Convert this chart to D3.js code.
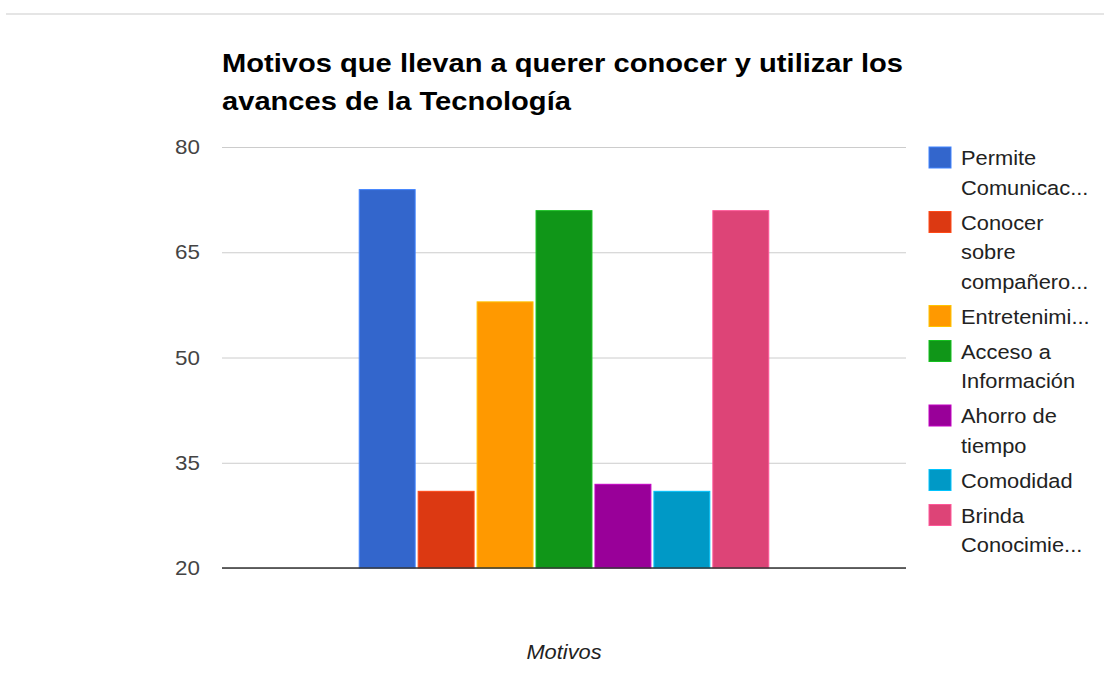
<!DOCTYPE html>
<html>
<head>
<meta charset="utf-8">
<script src="https://cdn.jsdelivr.net/npm/d3@7"></script>
<style>
  body { margin: 0; background: #fff; }
  svg { display: block; font-family: "Liberation Sans", Arial, sans-serif; }
</style>
</head>
<body>
<div id="chart"></div>
<script>
//Chart data.
let seriesNames = [
  ["Permite", "Comunicac..."],
  ["Conocer", "sobre", "compañero..."],
  ["Entretenimi..."],
  ["Acceso a", "Información"],
  ["Ahorro de", "tiempo"],
  ["Comodidad"],
  ["Brinda", "Conocimie..."]
]
let seriesValues = [74, 31, 58, 71, 32, 31, 71]
let seriesColors = ["#3366cc", "#dc3912", "#ff9900", "#109618", "#990099", "#0099c6", "#dd4477"]
let categories = ["Motivos"]
let yTicks = [20, 35, 50, 65, 80]
let titleLines = ["Motivos que llevan a querer conocer y utilizar los", "avances de la Tecnología"]

//Dimensions of the page and the plot area.
let w = 1104
let h = 673
let plot = {left: 222, right: 906, top: 147, bottom: 568}
//The reference is slightly stretched sideways, so text gets the same stretch.
let stretch = 1.12

const svg = d3.select("#chart")
  .append("svg")
  .attr("width", w)
  .attr("height", h)

//Thin rule across the top of the page.
svg.append("line")
  .attr("x1", 6).attr("x2", w)
  .attr("y1", 14).attr("y2", 14)
  .attr("stroke", "#e5e5e5")
  .attr("stroke-width", 2)

//Places a stretched text element.
function addText(x, y, str, size, color, anchor) {
  return svg.append("text")
    .attr("transform", "translate(" + x + "," + y + ") scale(" + stretch + ",1)")
    .attr("text-anchor", anchor || "start")
    .attr("font-size", size)
    .attr("fill", color)
    .text(str)
}

//Title, two lines.
titleLines.forEach((line, i) => {
  addText(plot.left, 71.5 + i * 38.5, line, 26, "#000").attr("font-weight", "bold")
})

//Scales.
let yScale = d3.scaleLinear()
  .domain([20, 80])
  .range([plot.bottom, plot.top])

let xScale = d3.scaleBand()
  .domain(categories)
  .range([plot.left, plot.right])
  .paddingInner(0)
  .paddingOuter(0.333)

let seriesScale = d3.scaleBand()
  .domain(d3.range(seriesValues.length))
  .range([0, xScale.bandwidth()])
  .paddingInner(0.034)

//Gridlines and y tick labels.
let yAxis = d3.axisLeft(yScale)
  .tickValues(yTicks)
  .tickSize(-(plot.right - plot.left))
  .tickFormat("")

svg.append("g")
  .attr("transform", "translate(" + plot.left + ",0)")
  .call(yAxis)
  .call(g => g.select(".domain").remove())
  .call(g => g.selectAll(".tick line").attr("stroke", "#cccccc"))

yTicks.forEach(t => {
  addText(200, yScale(t) + 7, t, 20, "#444", "end")
})

//Bars.
svg.append("g")
  .selectAll("rect")
  .data(seriesValues)
  .enter()
  .append("rect")
  .attr("x", (d, i) => xScale(categories[0]) + seriesScale(i) + 0.5)
  .attr("y", d => yScale(d) + 0.5)
  .attr("width", seriesScale.bandwidth() - 1)
  .attr("height", d => yScale(20) - yScale(d) - 0.5)
  .attr("fill", (d, i) => seriesColors[i])
  .attr("stroke", (d, i) => d3.color(seriesColors[i]).brighter(0.7))
  .attr("stroke-width", 1)

//Baseline.
svg.append("line")
  .attr("x1", plot.left).attr("x2", plot.right)
  .attr("y1", yScale(20)).attr("y2", yScale(20))
  .attr("stroke", "#333")
  .attr("stroke-width", 1.5)

//X axis title.
addText((plot.left + plot.right) / 2, 659, categories[0], 19.5, "#222", "middle")
  .attr("font-style", "italic")

//Legend on the right.
let lineHeight = 29.5
let itemGap = 35
let ly = 158
seriesNames.forEach((lines, i) => {
  svg.append("rect")
    .attr("x", 929)
    .attr("y", ly - 11)
    .attr("width", 22)
    .attr("height", 21)
    .attr("fill", seriesColors[i])
    .attr("stroke", d3.color(seriesColors[i]).brighter(0.7))
    .attr("stroke-width", 1)
  lines.forEach((line, j) => {
    addText(961, ly + 7 + j * lineHeight, line, 19.5, "#222")
  })
  ly += (lines.length - 1) * lineHeight + itemGap
})
</script>
</body>
</html>
